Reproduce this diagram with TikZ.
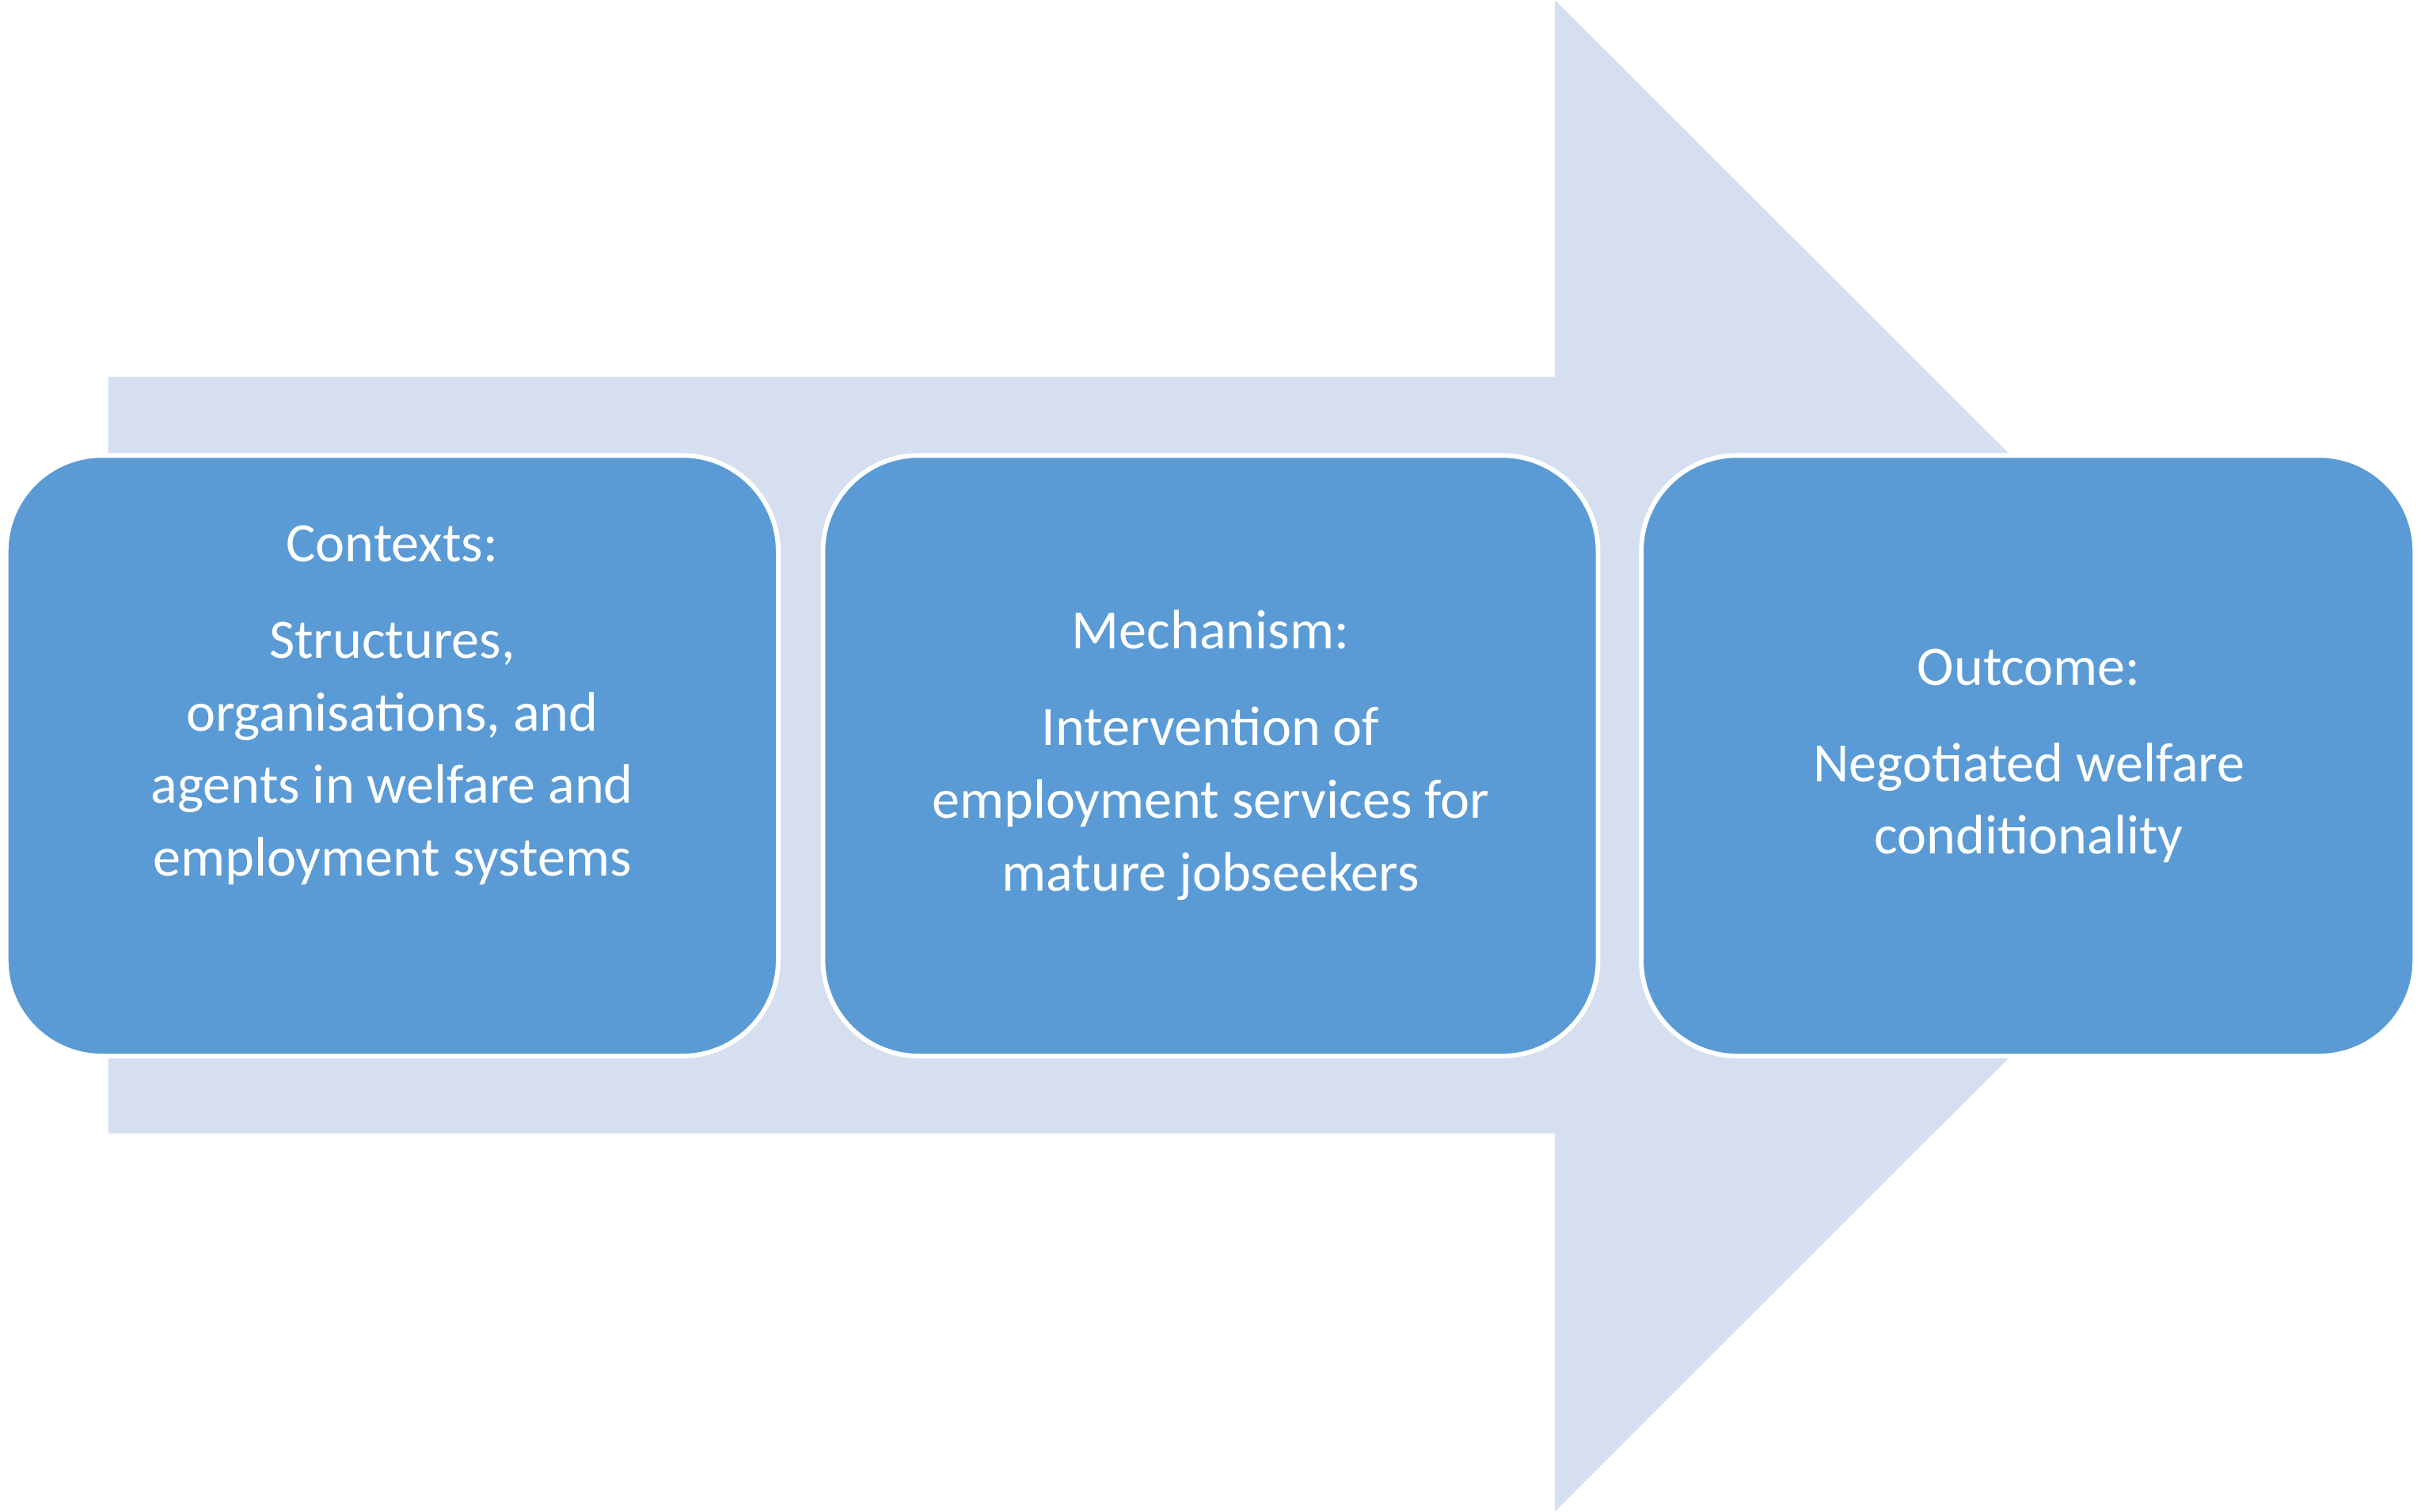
\documentclass[tikz,border=0pt]{standalone}
\usepackage{fontspec}
\setmainfont{Carlito}
\definecolor{arrowc}{HTML}{D5DFEF}
\definecolor{boxc}{HTML}{5B9BD5}
\begin{document}
\begin{tikzpicture}[x=1pt,y=-1pt,
  box/.style={draw=white,line width=3pt,fill=boxc,rounded corners=62pt},
  txt/.style={text=white,font=\fontsize{36}{47}\selectfont,align=center,anchor=center}]
\useasboundingbox (0,0) rectangle (1568,979);
\fill[arrowc] (70,244) -- (1007,244) -- (1007,0) -- (1497,489.5) -- (1007,979) -- (1007,734) -- (70,734) -- cycle;
\draw[box] (4,295) rectangle (504,684);
\draw[box] (533,295) rectangle (1035,684);
\draw[box] (1063,295) rectangle (1564,684);
\node[txt] (t1) at (254,352) {Contexts:};
\node[txt] (b1) at (254,488) {Structures,\\organisations, and\\agents in welfare and\\employment systems};
\node[txt] (t2) at (784,408) {Mechanism:};
\node[txt] (b2) at (784,520.5) {Intervention of\\employment services for\\mature jobseekers};
\node[txt] (t3) at (1314,432) {Outcome:};
\node[txt] (b3) at (1314,520) {Negotiated welfare\\conditionality};
\end{tikzpicture}
\end{document}
